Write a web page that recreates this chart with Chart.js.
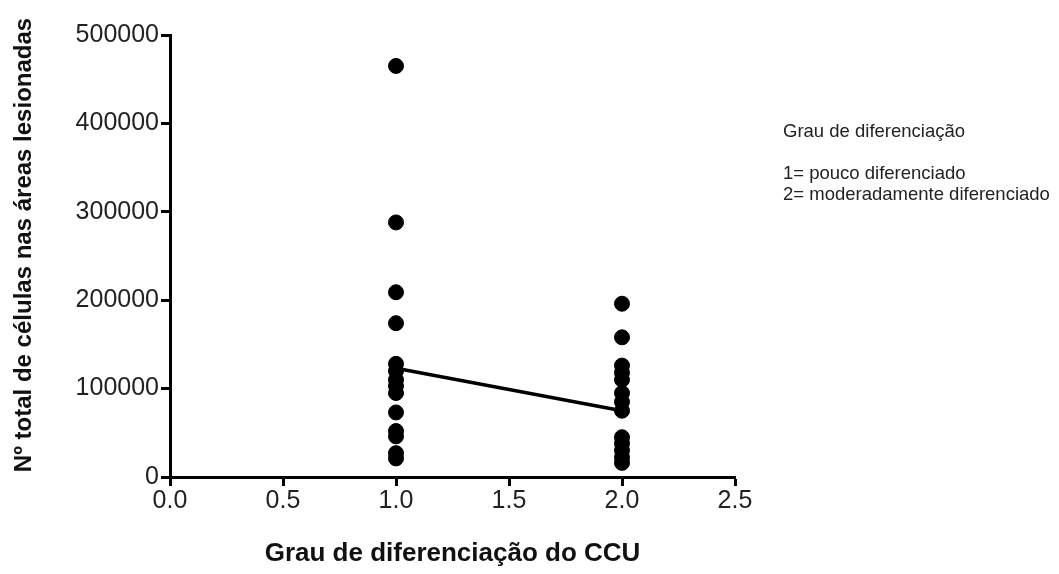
<!DOCTYPE html>
<html>
<head>
<meta charset="utf-8">
<script src="https://cdn.jsdelivr.net/npm/chart.js@4.4.1/dist/chart.umd.min.js"></script>
<style>
  html, body { margin: 0; padding: 0; background: #fff; }
  #wrap { width: 1059px; height: 574px; position: relative; }
</style>
</head>
<body>
<div id="wrap"><canvas id="c" width="1059" height="574"></canvas></div>
<script>
const group1Values = [465000, 288000, 209000, 174000, 128000, 120000, 110000, 103000, 95000, 73000, 52000, 46000, 27000, 21000];
const group2Values = [196000, 158000, 126000, 118000, 110000, 95000, 85000, 75000, 45000, 38000, 30000, 22000, 16000];
const groupX = [1, 2];
const lineValues = [123000, 75000];
const xTicks = [0.0, 0.5, 1.0, 1.5, 2.0, 2.5];
const yTicks = [0, 100000, 200000, 300000, 400000, 500000];
const yTitle = 'Nº total de células nas áreas lesionadas';
const xTitle = 'Grau de diferenciação do CCU';
const legendLines = ["Grau de diferenciação", "1= pouco diferenciado", "2= moderadamente diferenciado"];

const scatterData = [];
group1Values.forEach(v => scatterData.push({x: groupX[0], y: v}));
group2Values.forEach(v => scatterData.push({x: groupX[1], y: v}));
const lineData = groupX.map((x, i) => ({x: x, y: lineValues[i]}));

const textPlugin = {
  id: 'extraText',
  afterDraw(chart) {
    const ctx = chart.ctx;
    ctx.save();
    ctx.fillStyle = '#222';
    ctx.font = '18.5px "Liberation Sans", Arial, sans-serif';
    ctx.textBaseline = 'middle';
    ctx.textAlign = 'left';
    const ys = [132, 174, 195];
    legendLines.forEach((t, i) => ctx.fillText(t, 783, ys[i]));
    ctx.restore();

    ctx.save();
    ctx.fillStyle = '#111';
    ctx.font = 'bold 24px "Liberation Sans", Arial, sans-serif';
    ctx.textBaseline = 'middle';
    ctx.textAlign = 'center';
    ctx.translate(24, 245);
    ctx.rotate(-Math.PI / 2);
    ctx.fillText(yTitle, 0, 0);
    ctx.restore();
  }
};

Chart.defaults.font.family = '"Liberation Sans", Arial, sans-serif';
Chart.defaults.color = '#222';

new Chart(document.getElementById('c'), {
  type: 'scatter',
  data: {
    datasets: [
      {
        type: 'line',
        data: lineData,
        borderColor: '#000',
        borderWidth: 3.5,
        pointRadius: 0,
        fill: false,
        order: 2
      },
      {
        data: scatterData,
        backgroundColor: '#000',
        borderColor: '#000',
        pointRadius: 7.5,
        pointHoverRadius: 7.5,
        order: 1
      }
    ]
  },
  options: {
    responsive: false,
    animation: false,
    events: [],
    layout: { padding: { left: 0, right: 324, top: 35, bottom: 0 } },
    plugins: { legend: { display: false }, tooltip: { enabled: false } },
    scales: {
      x: {
        type: 'linear',
        min: 0, max: 2.5,
        afterBuildTicks: s => { s.ticks = xTicks.map(v => ({value: v})); },
        afterFit: s => { s.height = 97; },
        border: { display: true, color: '#000', width: 3 },
        grid: { display: true, drawOnChartArea: false, drawTicks: true, tickLength: 9, tickWidth: 3, tickColor: '#000' },
        ticks: { font: { size: 25 }, padding: 0, callback: v => Number(v).toFixed(1), maxRotation: 0 },
        title: { display: true, text: xTitle, font: { size: 26, weight: 'bold' }, color: '#111', padding: { top: 0, bottom: 5 } }
      },
      y: {
        type: 'linear',
        min: 0, max: 500000,
        afterBuildTicks: s => { s.ticks = yTicks.map(v => ({value: v})); },
        afterFit: s => { s.width = 170; },
        border: { display: true, color: '#000', width: 3 },
        grid: { display: true, drawOnChartArea: false, drawTicks: true, tickLength: 9, tickWidth: 3, tickColor: '#000' },
        ticks: { font: { size: 25 }, padding: 2, callback: v => String(v) },
        title: { display: false }
      }
    }
  },
  plugins: [textPlugin]
});
</script>
</body>
</html>
